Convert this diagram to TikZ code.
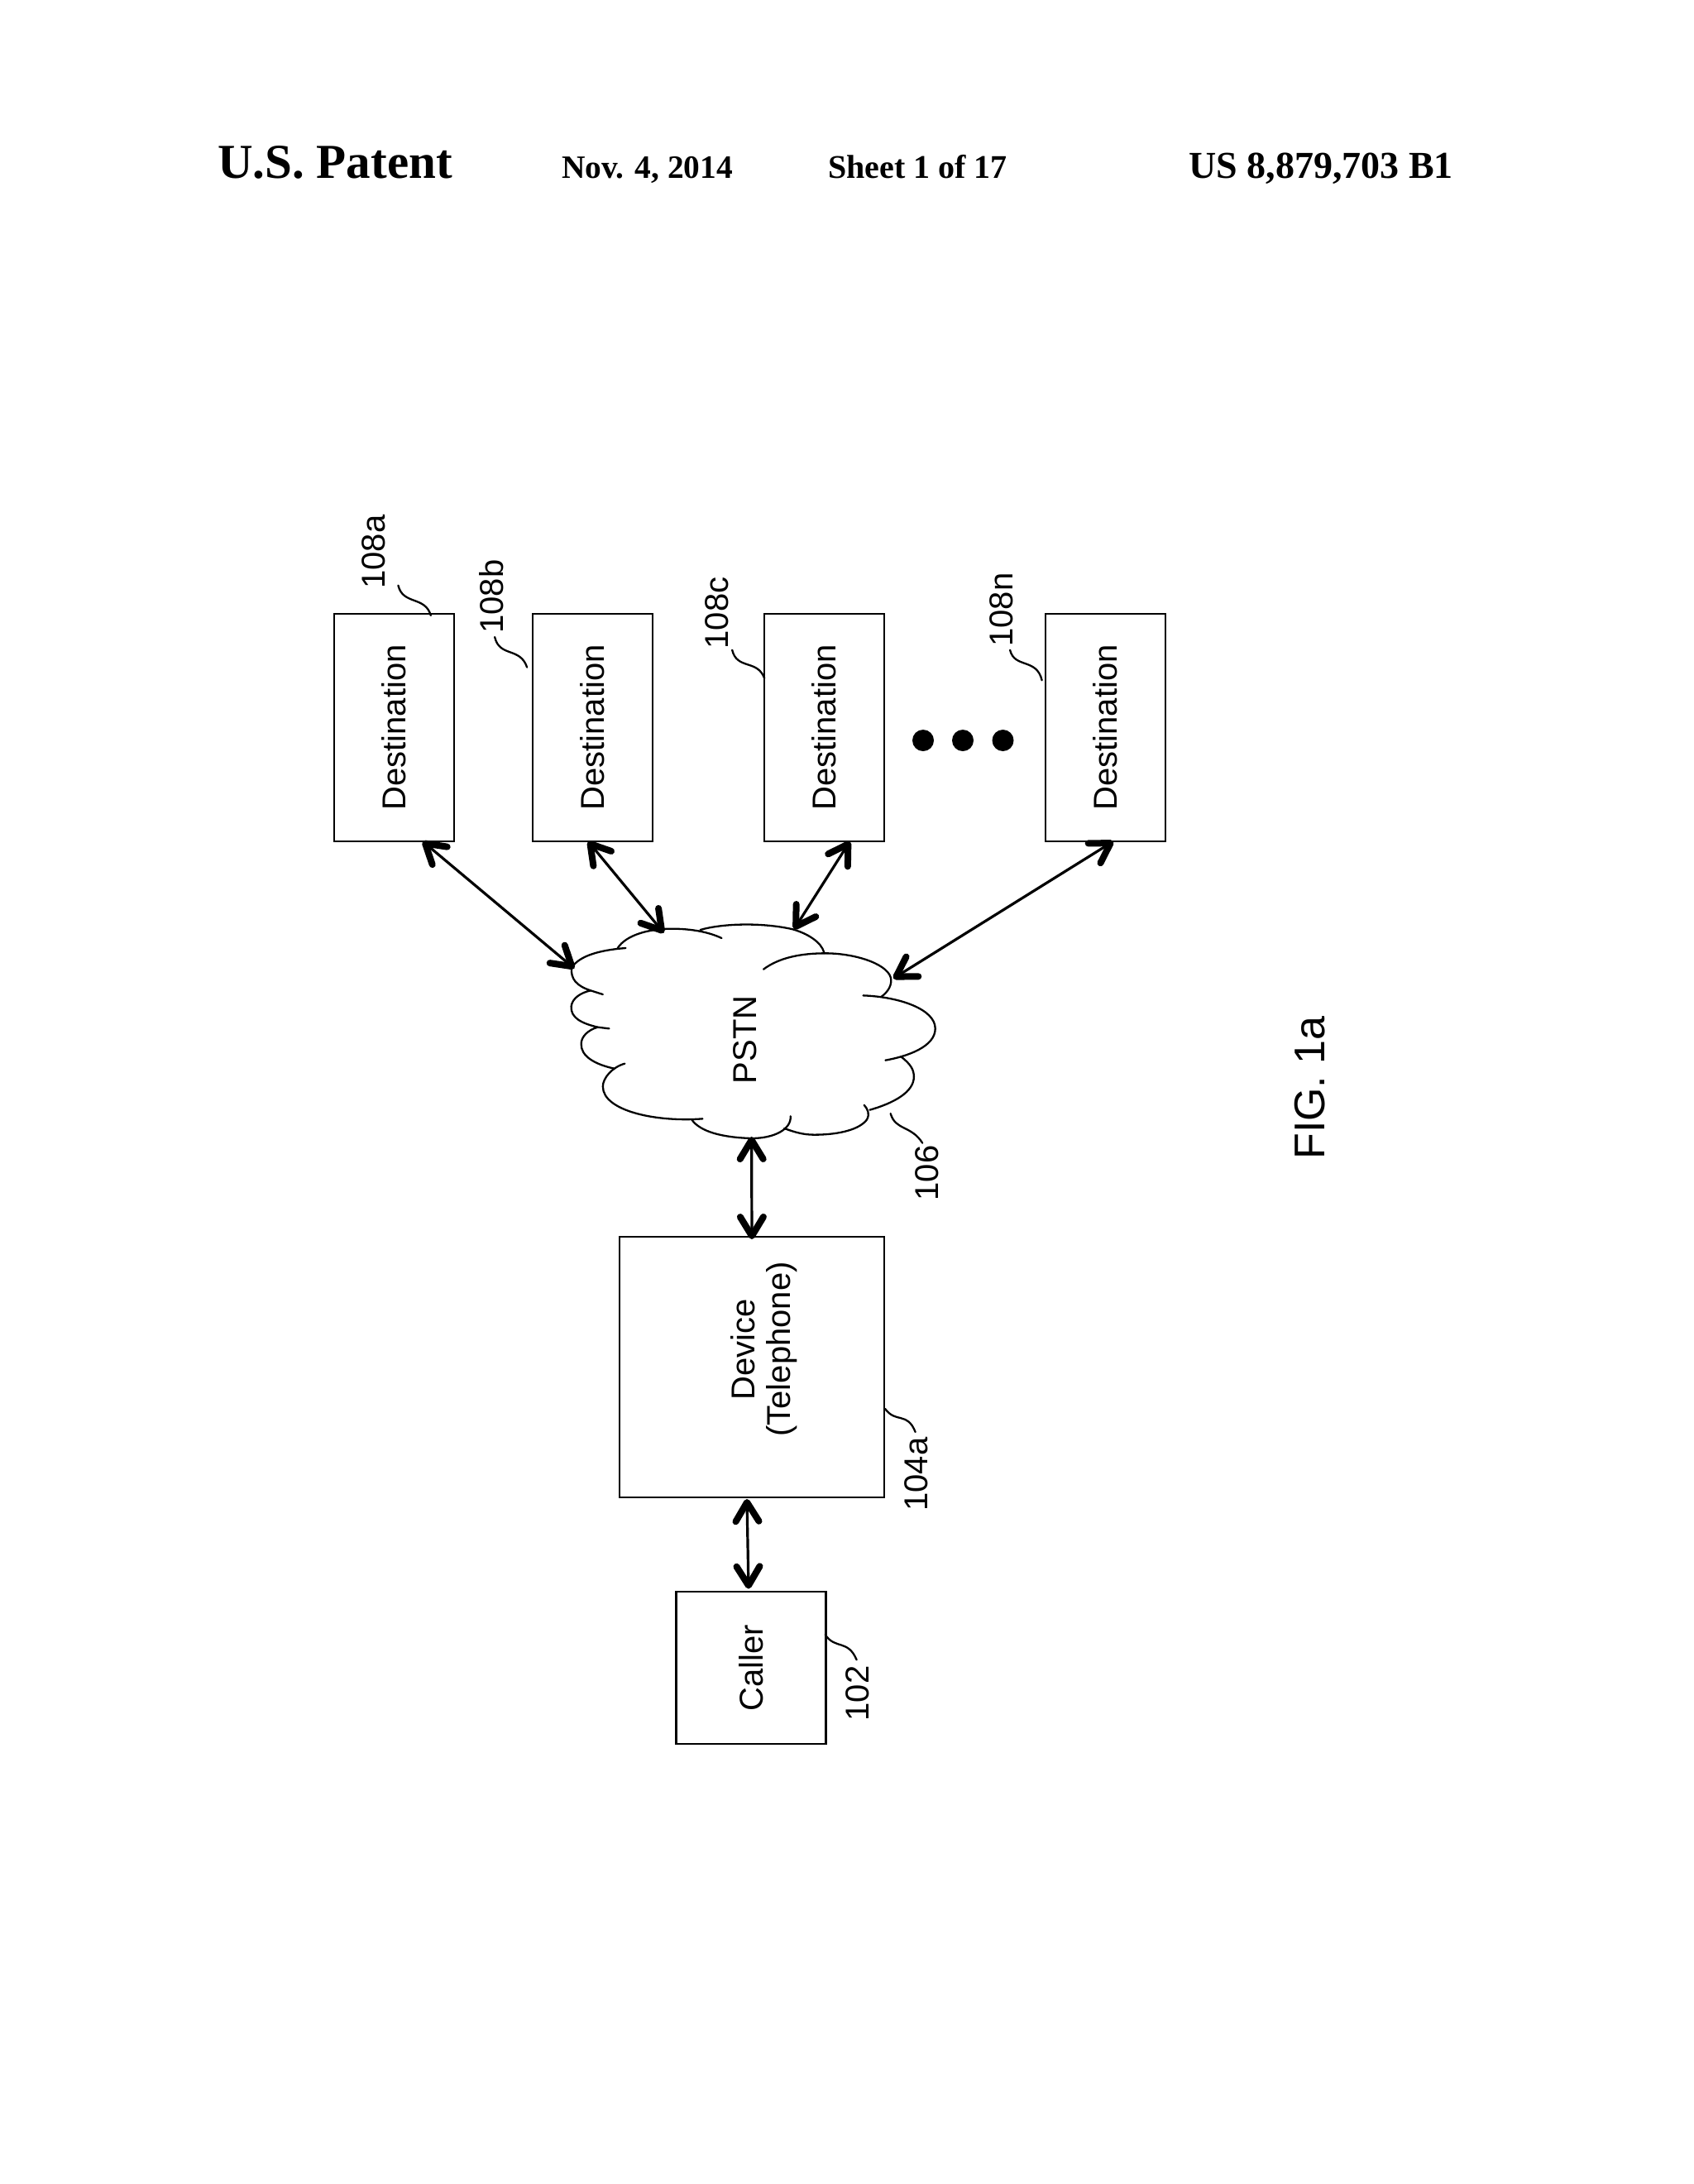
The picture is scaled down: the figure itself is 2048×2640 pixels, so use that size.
\documentclass[tikz,border=0pt]{standalone}
\usepackage{fontspec}
\setmainfont{Liberation Sans}
\newfontfamily\hdrfont{Liberation Serif}[BoldFont={Liberation Serif Bold}]
\usetikzlibrary{arrows.meta}
\newcommand{\fs}[1]{\fontsize{#1}{#1}\selectfont}
\tikzset{
  x=1pt,y=-1pt,
  boxnode/.style={draw=black,line width=2.6pt,fill=white,inner sep=0pt,outer sep=0pt,font=\fs{40}},
  biarrow/.style={line width=3.2pt,{Straight Barb[length=23pt,width=28pt,line width=8pt,round]}-{Straight Barb[length=23pt,width=28pt,line width=8pt,round]}},
  cloudline/.style={line width=2.3pt,line cap=round},
  leader/.style={line width=2.3pt,line cap=round},
  reflabel/.style={rotate=90,anchor=base,inner sep=0pt,font=\fs{40}},
  hdr/.style={anchor=base west,inner sep=0pt},
  dotnode/.style={circle,fill=black,minimum size=26pt,inner sep=0pt}
}
\begin{document}
\begin{tikzpicture}
\useasboundingbox (0,0) rectangle (2048,2640);
\fill[white] (0,0) rectangle (2048,2640);

% header
\node[hdr,font=\hdrfont\bfseries\fs{59}] (h1) at (263,215) {U.S. Patent};
\node[hdr,font=\hdrfont\bfseries\fs{39.4}] (h2) at (679,215) {Nov. 4, 2014};
\node[hdr,font=\hdrfont\bfseries\fs{40}] (h3) at (1001,215) {Sheet 1 of 17};
\node[hdr,font=\hdrfont\bfseries\fs{46}] (h4) at (1437,215) {US 8,879,703 B1};

% boxes
\node[boxnode,minimum width=145pt,minimum height=275pt] (da) at (476.5,879.5) {\rotatebox{90}{Destination}};
\node[boxnode,minimum width=145pt,minimum height=275pt] (db) at (716.5,879.5) {\rotatebox{90}{Destination}};
\node[boxnode,minimum width=145pt,minimum height=275pt] (dc) at (996.5,879.5) {\rotatebox{90}{Destination}};
\node[boxnode,minimum width=145pt,minimum height=275pt] (dn) at (1336.5,879.5) {\rotatebox{90}{Destination}};
\node[boxnode,minimum width=320pt,minimum height=315pt] (dev) at (909,1652.5) {};
\node[reflabel] (devt1) at (912,1631) {Device};
\node[reflabel] (devt2) at (955,1631) {(Telephone)};
\node[boxnode,minimum width=181pt,minimum height=184pt] (caller) at (908,2016) {\rotatebox{90}{Caller}};

% dots
\node[dotnode] (d1) at (1116,895) {};
\node[dotnode] (d2) at (1164,895) {};
\node[dotnode] (d3) at (1212.5,895) {};

% cloud
\begin{scope}[shift={(640,1060)},xscale=0.34435,yscale=0.33333]
\draw[cloudline] (148,330) .. controls (175,285) and (250,265) .. (338,258);
\draw[cloudline] (310,258) .. controls (340,210) and (420,188) .. (500,188) .. controls (570,188) and (630,200) .. (675,222);
\draw[cloudline] (600,192) .. controls (680,168) and (820,165) .. (925,190) .. controls (975,205) and (1025,235) .. (1035,275);
\draw[cloudline] (822,335) .. controls (880,290) and (960,277) .. (1040,277) .. controls (1150,277) and (1270,320) .. (1270,375) .. controls (1270,400) and (1255,420) .. (1235,435);
\draw[cloudline] (1172,430) .. controls (1300,435) and (1425,480) .. (1425,550) .. controls (1425,615) and (1330,650) .. (1250,665);
\draw[cloudline] (1305,652) .. controls (1340,680) and (1350,700) .. (1350,725) .. controls (1350,780) and (1280,820) .. (1195,845);
\draw[cloudline] (1175,827) .. controls (1190,845) and (1195,860) .. (1185,880) .. controls (1160,915) and (1090,935) .. (1000,935) .. controls (960,935) and (930,925) .. (895,912);
\draw[cloudline] (917,868) .. controls (920,915) and (860,948) .. (780,948) .. controls (680,945) and (600,925) .. (570,880);
\draw[cloudline] (608,877) .. controls (450,890) and (258,850) .. (258,760) .. controls (258,730) and (290,690) .. (335,677);
\draw[cloudline] (298,695) .. controls (230,680) and (180,650) .. (182,605) .. controls (182,580) and (205,555) .. (240,545) -- (280,550);
\draw[cloudline] (240,545) .. controls (180,530) and (145,510) .. (147,470) .. controls (150,440) and (180,420) .. (215,412) -- (258,426);
\draw[cloudline] (215,412) .. controls (165,395) and (145,370) .. (148,330);
\coordinate (leadstart106) at (1268,858);
\coordinate (leadc1) at (1285,920);
\coordinate (leadc2) at (1340,900);
\coordinate (leadend106) at (1380,965);
\draw[leader] (leadstart106) .. controls (leadc1) and (leadc2) .. (leadend106);
\end{scope}
\node[rotate=90,anchor=base,inner sep=0pt,font=\fs{40}] (pstn) at (914,1257) {PSTN};

% cloud contact points
\coordinate (ca) at (694.4,1170.7);
\coordinate (cb) at (802.5,1127.7);
\coordinate (cc) at (960,1123.3);
\coordinate (cn) at (1080,1182.7);
\coordinate (cd) at (908.6,1374);

% connectors
\draw[biarrow] ([xshift=34.5pt]da.south) -- (ca);
\draw[biarrow] ([xshift=-5.5pt]db.south) -- (cb);
\draw[biarrow] ([xshift=31pt]dc.south) -- (cc);
\draw[biarrow] ([xshift=9.5pt]dn.south) -- (cn);
\draw[biarrow] (cd) -- ([yshift=-3pt]dev.north);
\draw[biarrow] ([xshift=-6pt,yshift=-2pt]dev.south) -- ([xshift=-3pt,yshift=3.5pt]caller.north);

% leaders
\begin{scope}[shift={(380,600)},xscale=0.3827,yscale=0.33333]
\draw[leader] (265,323) .. controls (280,395) and (350,360) .. (368,432);
\draw[leader] (570,510) .. controls (585,585) and (650,545) .. (672,620);
\draw[leader] (1320,557) .. controls (1335,630) and (1400,590) .. (1422,660);
\end{scope}
\begin{scope}[shift={(880,660)},xscale=0.35714,yscale=0.33333]
\draw[leader] (955,377) .. controls (970,445) and (1045,405) .. (1063,487);
\end{scope}
\begin{scope}[shift={(700,1450)},xscale=0.33333,yscale=0.43365]
\draw[leader] (1110,583) .. controls (1150,625) and (1190,590) .. (1220,648);
\draw[leader] (893,1213) .. controls (930,1255) and (975,1225) .. (1007,1283);
\end{scope}

% reference labels
\node[reflabel] (la) at (465,667) {108a};
\node[reflabel] (lb) at (608.5,721) {108b};
\node[reflabel] (lc) at (880.5,741) {108c};
\node[reflabel] (ln) at (1224.5,737) {108n};
\node[reflabel] (ld) at (1121.5,1782) {104a};
\node[reflabel] (lk) at (1050.5,2047) {102};
\node[reflabel] (lp) at (1134,1418) {106};
\node[rotate=90,anchor=base,inner sep=0pt,font=\fs{52}] (fig) at (1601,1315) {FIG. 1a};
\end{tikzpicture}
\end{document}
